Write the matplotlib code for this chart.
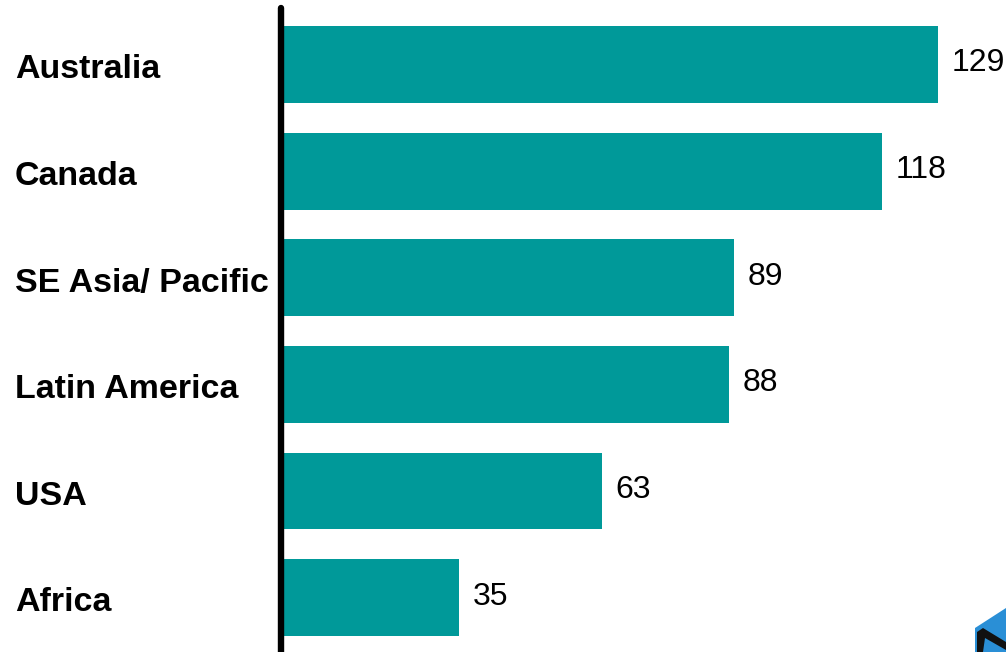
import matplotlib
matplotlib.use("Agg")
import matplotlib.pyplot as plt
import matplotlib.transforms as mtransforms
from matplotlib.patches import Polygon

categories = ["Australia", "Canada", "SE Asia/ Pacific", "Latin America", "USA", "Africa"]
values = [129, 118, 89, 88, 63, 35]

W, H = 1006, 652
fig = plt.figure(figsize=(W / 100, H / 100), dpi=100)
left_px, top_px = 281, 8
ax = fig.add_axes([left_px / W, 0, 1 - left_px / W, (H - top_px) / H])

pos = list(range(len(categories)))
ax.barh(pos, values, height=0.72, color="#009999", zorder=2)
ax.set_xlim(0, (W - left_px) / 5.09)
ax.set_ylim(len(categories) - 1 + 0.51, -0.53)

for s in ["top", "right", "bottom"]:
    ax.spines[s].set_visible(False)
ax.spines["left"].set_linewidth(4.6)
ax.spines["left"].set_capstyle("round")
ax.spines["left"].set_zorder(3)
ax.set_xticks([])
ax.set_yticks([])

for p, v in zip(pos, values):
    ax.annotate(str(v), (v, p), xytext=(10, 0.8), textcoords="offset points",
                ha="left", va="center", fontsize=23, family="Liberation Sans",
                color="#000000", annotation_clip=False)

trans = mtransforms.blended_transform_factory(fig.transFigure, ax.transData)
for p, c in zip(pos, categories):
    ax.text(15 / W, p + 0.05, c, transform=trans, ha="left", va="center",
            fontsize=24.5, fontweight="bold", family="Liberation Sans", color="#000000")

# partial logo in bottom-right corner
def px(x, y):
    return (x / W, 1 - y / H)
fig.patches.append(Polygon([px(975, 628), px(1006, 608), px(1006, 652), px(975, 652)],
                           closed=True, transform=fig.transFigure, facecolor="#2a8fd6",
                           edgecolor="none"))
fig.patches.append(Polygon([px(977, 632), px(983, 628), px(1006, 642), px(1006, 650), px(985, 638), px(983, 652), px(977, 652)],
                           closed=True, transform=fig.transFigure, facecolor="#111111",
                           edgecolor="none"))

fig.savefig("out.png", dpi=100)
